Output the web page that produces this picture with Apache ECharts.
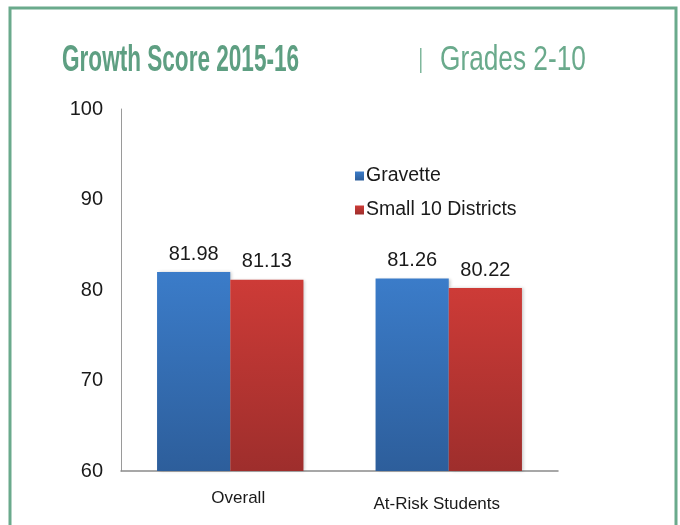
<!DOCTYPE html>
<html>
<head>
<meta charset="utf-8">
<script src="https://cdn.jsdelivr.net/npm/echarts@6/dist/echarts.min.js"></script>
<style>
html,body{margin:0;padding:0;background:#fff;}
#main{width:680px;height:525px;}
</style>
</head>
<body>
<div id="main"></div>
<script>
var categories = ['Overall', 'At-Risk Students'];
var gravette = [81.98, 81.26];
var small10 = [81.13, 80.22];
var seriesNames = ['Gravette', 'Small 10 Districts'];
var yTicks = [60, 70, 80, 90, 100];

var chart = echarts.init(document.getElementById('main'));
function grad(top, bottom) {
  return new echarts.graphic.LinearGradient(0, 0, 0, 1, [
    {offset: 0, color: top}, {offset: 1, color: bottom}
  ]);
}
var FONT = 'Liberation Sans, Arial, sans-serif';
var labelStyle = {
  show: true, position: 'top', distance: 8,
  fontFamily: FONT, fontSize: 20, color: '#1a1a1a',
  formatter: function (p) { return p.value.toFixed(2); }
};
var option = {
  backgroundColor: '#fff',
  animation: false,
  graphic: [
    {type: 'rect', shape: {x: 10, y: 8, width: 666, height: 540},
     style: {fill: 'none', stroke: '#6aaa8c', lineWidth: 3}, z: 0},
    {type: 'text', x: 62, y: 42, scaleX: 0.61, originX: 0,
     style: {x: 0, y: 0, text: 'Growth Score 2015-16', font: 'bold 37px "Liberation Sans", Arial, sans-serif', fill: '#5e9f82'}},
    {type: 'rect', shape: {x: 420, y: 48, width: 1.5, height: 25}, style: {fill: '#7fb79c'}},
    {type: 'text', x: 440, y: 43, scaleX: 0.75, originX: 0,
     style: {x: 0, y: 0, text: 'Grades 2-10', font: '35px "Liberation Sans", Arial, sans-serif', fill: '#6aaa8c'}}
  ],
  legend: {
    orient: 'vertical', left: 350, top: 161,
    itemWidth: 9, itemHeight: 9, itemGap: 14,
    icon: 'rect',
    textStyle: {fontFamily: FONT, fontSize: 19.5, color: '#1a1a1a', padding: [0,0,0,-3]},
    data: seriesNames
  },
  grid: {left: 121, right: 122, top: 109, bottom: 54, containLabel: false},
  xAxis: {
    type: 'category', data: categories,
    axisLine: {lineStyle: {color: '#8a8a8a', width: 1.5}},
    axisTick: {show: false},
    axisLabel: {
      fontFamily: FONT, fontSize: 17, color: '#1a1a1a', margin: 17,
      formatter: function (v, i) { return i === 0 ? '{a|' + v + '}' : '{b|' + v + '}'; },
      rich: {
        a: {fontFamily: FONT, fontSize: 17, color: '#1a1a1a', padding: [2, 0, 0, 16]},
        b: {fontFamily: FONT, fontSize: 17, color: '#1a1a1a', padding: [8, 24, 0, 0]}
      }
    }
  },
  yAxis: {
    type: 'value', min: yTicks[0], max: yTicks[yTicks.length-1], interval: 10,
    axisLine: {show: true, lineStyle: {color: '#9a9a9a', width: 1}},
    axisTick: {show: false},
    splitLine: {show: false},
    axisLabel: {fontFamily: FONT, fontSize: 20, color: '#1a1a1a', margin: 18}
  },
  series: [
    {name: seriesNames[0], type: 'bar', data: gravette, barGap: '0%', barCategoryGap: '33%',
     itemStyle: {color: grad('#3b7cc9', '#2d5e9b'), shadowBlur: 3, shadowOffsetX: 2, shadowColor: 'rgba(0,0,0,0.2)'},
     label: labelStyle},
    {name: seriesNames[1], type: 'bar', data: small10,
     itemStyle: {color: grad('#cd3b37', '#9e2e2c'), shadowBlur: 3, shadowOffsetX: 2, shadowColor: 'rgba(0,0,0,0.2)'},
     label: labelStyle}
  ]
};
chart.setOption(option);
</script>
</body>
</html>
